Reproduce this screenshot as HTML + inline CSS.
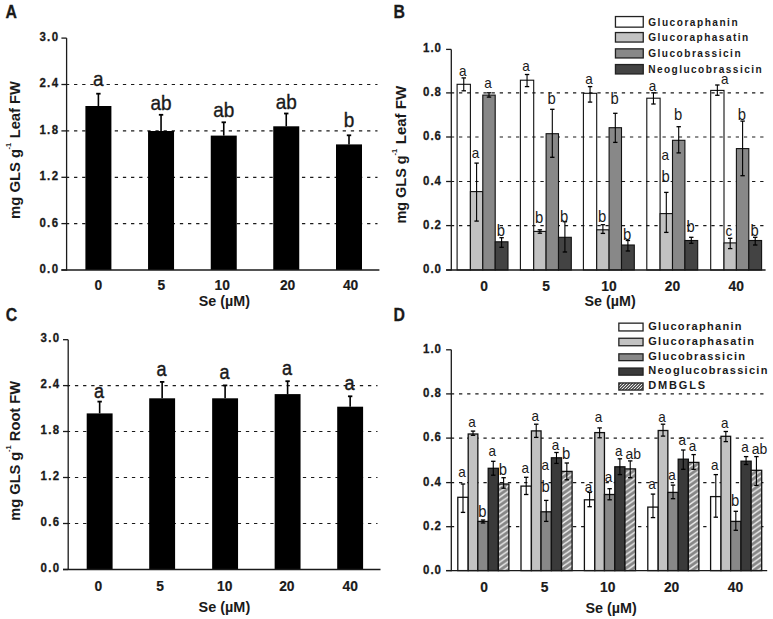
<!DOCTYPE html><html><head><meta charset="utf-8"><title>GLS figure</title><style>html,body{margin:0;padding:0;background:#fff;width:773px;height:619px;overflow:hidden}svg text{font-family:'Liberation Sans', sans-serif}</style></head><body><svg width="773" height="619" viewBox="0 0 773 619" font-family="'Liberation Sans', sans-serif" style="display:block">
<defs><pattern id="hatch" patternUnits="userSpaceOnUse" width="7.7" height="5.4"><rect width="7.7" height="5.4" fill="#868686"/><path d="M-3.85,2.7 L3.85,-2.7 M0,5.4 L7.7,0 M3.85,8.1 L11.55,2.7" stroke="#eeeeee" stroke-width="1.4"/></pattern><pattern id="hatch2" patternUnits="userSpaceOnUse" width="3" height="3"><rect width="3" height="3" fill="#5a5a5a"/><path d="M0,3 l3,-3" stroke="#e8e8e8" stroke-width="1"/></pattern></defs>
<rect width="773" height="619" fill="#fff"/>
<line x1="65.90" y1="84.50" x2="377.50" y2="84.50" stroke="#1a1a1a" stroke-width="1.2" stroke-dasharray="3.3 4.84"/>
<line x1="65.90" y1="130.90" x2="377.50" y2="130.90" stroke="#1a1a1a" stroke-width="1.2" stroke-dasharray="3.3 4.84"/>
<line x1="65.90" y1="177.30" x2="377.50" y2="177.30" stroke="#1a1a1a" stroke-width="1.2" stroke-dasharray="3.3 4.84"/>
<line x1="65.90" y1="223.60" x2="377.50" y2="223.60" stroke="#1a1a1a" stroke-width="1.2" stroke-dasharray="3.3 4.84"/>
<rect x="85.40" y="106.00" width="26.00" height="164.00" fill="#000" stroke="none" stroke-width="1.0"/>
<line x1="98.40" y1="106.00" x2="98.40" y2="93.70" stroke="#000" stroke-width="1.6" />
<line x1="96.20" y1="93.70" x2="100.60" y2="93.70" stroke="#000" stroke-width="1.8" />
<text transform="translate(98.40,85.60) scale(0.95,1)" font-size="20" font-weight="normal" text-anchor="middle" fill="#1a1a1a" stroke="#1a1a1a" stroke-width="0.35">a</text>
<rect x="148.05" y="131.00" width="26.00" height="139.00" fill="#000" stroke="none" stroke-width="1.0"/>
<line x1="161.05" y1="131.00" x2="161.05" y2="114.80" stroke="#000" stroke-width="1.6" />
<line x1="158.85" y1="114.80" x2="163.25" y2="114.80" stroke="#000" stroke-width="1.8" />
<text transform="translate(161.05,109.60) scale(0.95,1)" font-size="20" font-weight="normal" text-anchor="middle" fill="#1a1a1a" stroke="#1a1a1a" stroke-width="0.35">ab</text>
<rect x="210.75" y="135.60" width="26.00" height="134.40" fill="#000" stroke="none" stroke-width="1.0"/>
<line x1="223.75" y1="135.60" x2="223.75" y2="122.30" stroke="#000" stroke-width="1.6" />
<line x1="221.55" y1="122.30" x2="225.95" y2="122.30" stroke="#000" stroke-width="1.8" />
<text transform="translate(223.75,116.60) scale(0.95,1)" font-size="20" font-weight="normal" text-anchor="middle" fill="#1a1a1a" stroke="#1a1a1a" stroke-width="0.35">ab</text>
<rect x="273.25" y="126.30" width="26.00" height="143.70" fill="#000" stroke="none" stroke-width="1.0"/>
<line x1="286.25" y1="126.30" x2="286.25" y2="113.50" stroke="#000" stroke-width="1.6" />
<line x1="284.05" y1="113.50" x2="288.45" y2="113.50" stroke="#000" stroke-width="1.8" />
<text transform="translate(286.25,109.20) scale(0.95,1)" font-size="20" font-weight="normal" text-anchor="middle" fill="#1a1a1a" stroke="#1a1a1a" stroke-width="0.35">ab</text>
<rect x="336.00" y="144.40" width="26.00" height="125.60" fill="#000" stroke="none" stroke-width="1.0"/>
<line x1="349.00" y1="144.40" x2="349.00" y2="135.30" stroke="#000" stroke-width="1.6" />
<line x1="346.80" y1="135.30" x2="351.20" y2="135.30" stroke="#000" stroke-width="1.8" />
<text transform="translate(349.00,127.00) scale(0.95,1)" font-size="20" font-weight="normal" text-anchor="middle" fill="#1a1a1a" stroke="#1a1a1a" stroke-width="0.35">b</text>
<line x1="66.60" y1="38.10" x2="66.60" y2="270.60" stroke="#1a1a1a" stroke-width="1.3" />
<line x1="61.40" y1="270.00" x2="379.40" y2="270.00" stroke="#1a1a1a" stroke-width="1.3" />
<line x1="61.40" y1="38.10" x2="66.60" y2="38.10" stroke="#1a1a1a" stroke-width="1.3" />
<text transform="translate(59.40,41.00) scale(0.85,1)" font-size="13.5" font-weight="bold" text-anchor="end" fill="#1a1a1a" letter-spacing="1.6" stroke="#1a1a1a" stroke-width="0.3">3.0</text>
<line x1="61.40" y1="84.50" x2="66.60" y2="84.50" stroke="#1a1a1a" stroke-width="1.3" />
<text transform="translate(59.40,87.40) scale(0.85,1)" font-size="13.5" font-weight="bold" text-anchor="end" fill="#1a1a1a" letter-spacing="1.6" stroke="#1a1a1a" stroke-width="0.3">2.4</text>
<line x1="61.40" y1="130.90" x2="66.60" y2="130.90" stroke="#1a1a1a" stroke-width="1.3" />
<text transform="translate(59.40,133.80) scale(0.85,1)" font-size="13.5" font-weight="bold" text-anchor="end" fill="#1a1a1a" letter-spacing="1.6" stroke="#1a1a1a" stroke-width="0.3">1.8</text>
<line x1="61.40" y1="177.30" x2="66.60" y2="177.30" stroke="#1a1a1a" stroke-width="1.3" />
<text transform="translate(59.40,180.20) scale(0.85,1)" font-size="13.5" font-weight="bold" text-anchor="end" fill="#1a1a1a" letter-spacing="1.6" stroke="#1a1a1a" stroke-width="0.3">1.2</text>
<line x1="61.40" y1="223.60" x2="66.60" y2="223.60" stroke="#1a1a1a" stroke-width="1.3" />
<text transform="translate(59.40,226.50) scale(0.85,1)" font-size="13.5" font-weight="bold" text-anchor="end" fill="#1a1a1a" letter-spacing="1.6" stroke="#1a1a1a" stroke-width="0.3">0.6</text>
<line x1="61.40" y1="270.00" x2="66.60" y2="270.00" stroke="#1a1a1a" stroke-width="1.3" />
<text transform="translate(59.40,272.90) scale(0.85,1)" font-size="13.5" font-weight="bold" text-anchor="end" fill="#1a1a1a" letter-spacing="1.6" stroke="#1a1a1a" stroke-width="0.3">0.0</text>
<text transform="translate(98.30,290.00) scale(0.92,1)" font-size="15" font-weight="bold" text-anchor="middle" fill="#1a1a1a" stroke="#1a1a1a" stroke-width="0.2">0</text>
<text transform="translate(161.30,290.00) scale(0.92,1)" font-size="15" font-weight="bold" text-anchor="middle" fill="#1a1a1a" stroke="#1a1a1a" stroke-width="0.2">5</text>
<text transform="translate(222.20,290.00) scale(0.92,1)" font-size="15" font-weight="bold" text-anchor="middle" fill="#1a1a1a" stroke="#1a1a1a" stroke-width="0.2">10</text>
<text transform="translate(287.60,290.00) scale(0.92,1)" font-size="15" font-weight="bold" text-anchor="middle" fill="#1a1a1a" stroke="#1a1a1a" stroke-width="0.2">20</text>
<text transform="translate(350.60,290.00) scale(0.92,1)" font-size="15" font-weight="bold" text-anchor="middle" fill="#1a1a1a" stroke="#1a1a1a" stroke-width="0.2">40</text>
<text x="198.80" y="305.80" font-size="15" font-weight="bold" text-anchor="start" fill="#1a1a1a" textLength="51.2" lengthAdjust="spacingAndGlyphs">Se (µM)</text>
<text transform="translate(20.3,219.00) rotate(-90)" font-size="14.5" font-weight="bold" fill="#1a1a1a" textLength="70.2" lengthAdjust="spacingAndGlyphs">mg GLS g</text>
<text transform="translate(10.80,149.60) rotate(-90)" font-size="7.5" font-weight="bold" fill="#1a1a1a">-1</text>
<text transform="translate(20.3,138.30) rotate(-90)" font-size="14.5" font-weight="bold" fill="#1a1a1a" textLength="57.1" lengthAdjust="spacingAndGlyphs">Leaf FW</text>
<text transform="translate(5.60,18.20) scale(0.88,1)" font-size="18" font-weight="bold" text-anchor="start" fill="#1a1a1a" stroke="#1a1a1a" stroke-width="0.3">A</text>
<line x1="66.80" y1="385.60" x2="377.50" y2="385.60" stroke="#1a1a1a" stroke-width="1.2" stroke-dasharray="3.3 4.84"/>
<line x1="66.80" y1="431.50" x2="377.50" y2="431.50" stroke="#1a1a1a" stroke-width="1.2" stroke-dasharray="3.3 4.84"/>
<line x1="66.80" y1="477.50" x2="377.50" y2="477.50" stroke="#1a1a1a" stroke-width="1.2" stroke-dasharray="3.3 4.84"/>
<line x1="66.80" y1="523.50" x2="377.50" y2="523.50" stroke="#1a1a1a" stroke-width="1.2" stroke-dasharray="3.3 4.84"/>
<rect x="86.70" y="413.40" width="25.90" height="156.10" fill="#000" stroke="none" stroke-width="1.0"/>
<line x1="99.65" y1="413.40" x2="99.65" y2="401.60" stroke="#000" stroke-width="1.6" />
<line x1="97.45" y1="401.60" x2="101.85" y2="401.60" stroke="#000" stroke-width="1.8" />
<text transform="translate(98.95,397.90) scale(0.86,1)" font-size="21" font-weight="normal" text-anchor="middle" fill="#1a1a1a" stroke="#1a1a1a" stroke-width="0.45">a</text>
<rect x="149.20" y="398.30" width="25.90" height="171.20" fill="#000" stroke="none" stroke-width="1.0"/>
<line x1="162.15" y1="398.30" x2="162.15" y2="381.90" stroke="#000" stroke-width="1.6" />
<line x1="159.95" y1="381.90" x2="164.35" y2="381.90" stroke="#000" stroke-width="1.8" />
<text transform="translate(161.45,376.20) scale(0.86,1)" font-size="21" font-weight="normal" text-anchor="middle" fill="#1a1a1a" stroke="#1a1a1a" stroke-width="0.45">a</text>
<rect x="212.15" y="398.30" width="25.90" height="171.20" fill="#000" stroke="none" stroke-width="1.0"/>
<line x1="225.10" y1="398.30" x2="225.10" y2="385.40" stroke="#000" stroke-width="1.6" />
<line x1="222.90" y1="385.40" x2="227.30" y2="385.40" stroke="#000" stroke-width="1.8" />
<text transform="translate(224.40,379.30) scale(0.86,1)" font-size="21" font-weight="normal" text-anchor="middle" fill="#1a1a1a" stroke="#1a1a1a" stroke-width="0.45">a</text>
<rect x="274.65" y="394.10" width="25.90" height="175.40" fill="#000" stroke="none" stroke-width="1.0"/>
<line x1="287.60" y1="394.10" x2="287.60" y2="381.20" stroke="#000" stroke-width="1.6" />
<line x1="285.40" y1="381.20" x2="289.80" y2="381.20" stroke="#000" stroke-width="1.8" />
<text transform="translate(286.90,374.80) scale(0.86,1)" font-size="21" font-weight="normal" text-anchor="middle" fill="#1a1a1a" stroke="#1a1a1a" stroke-width="0.45">a</text>
<rect x="337.20" y="406.70" width="25.90" height="162.80" fill="#000" stroke="none" stroke-width="1.0"/>
<line x1="350.15" y1="406.70" x2="350.15" y2="396.30" stroke="#000" stroke-width="1.6" />
<line x1="347.95" y1="396.30" x2="352.35" y2="396.30" stroke="#000" stroke-width="1.8" />
<text transform="translate(349.45,389.60) scale(0.86,1)" font-size="21" font-weight="normal" text-anchor="middle" fill="#1a1a1a" stroke="#1a1a1a" stroke-width="0.45">a</text>
<line x1="68.20" y1="339.70" x2="68.20" y2="570.10" stroke="#1a1a1a" stroke-width="1.3" />
<line x1="63.00" y1="569.50" x2="380.50" y2="569.50" stroke="#1a1a1a" stroke-width="1.3" />
<line x1="63.00" y1="339.70" x2="68.20" y2="339.70" stroke="#1a1a1a" stroke-width="1.3" />
<text transform="translate(60.60,342.40) scale(0.85,1)" font-size="13.5" font-weight="bold" text-anchor="end" fill="#1a1a1a" letter-spacing="1.6" stroke="#1a1a1a" stroke-width="0.3">3.0</text>
<line x1="63.00" y1="385.60" x2="68.20" y2="385.60" stroke="#1a1a1a" stroke-width="1.3" />
<text transform="translate(60.60,388.30) scale(0.85,1)" font-size="13.5" font-weight="bold" text-anchor="end" fill="#1a1a1a" letter-spacing="1.6" stroke="#1a1a1a" stroke-width="0.3">2.4</text>
<line x1="63.00" y1="431.50" x2="68.20" y2="431.50" stroke="#1a1a1a" stroke-width="1.3" />
<text transform="translate(60.60,434.20) scale(0.85,1)" font-size="13.5" font-weight="bold" text-anchor="end" fill="#1a1a1a" letter-spacing="1.6" stroke="#1a1a1a" stroke-width="0.3">1.8</text>
<line x1="63.00" y1="477.50" x2="68.20" y2="477.50" stroke="#1a1a1a" stroke-width="1.3" />
<text transform="translate(60.60,480.20) scale(0.85,1)" font-size="13.5" font-weight="bold" text-anchor="end" fill="#1a1a1a" letter-spacing="1.6" stroke="#1a1a1a" stroke-width="0.3">1.2</text>
<line x1="63.00" y1="523.50" x2="68.20" y2="523.50" stroke="#1a1a1a" stroke-width="1.3" />
<text transform="translate(60.60,526.20) scale(0.85,1)" font-size="13.5" font-weight="bold" text-anchor="end" fill="#1a1a1a" letter-spacing="1.6" stroke="#1a1a1a" stroke-width="0.3">0.6</text>
<line x1="63.00" y1="569.50" x2="68.20" y2="569.50" stroke="#1a1a1a" stroke-width="1.3" />
<text transform="translate(60.60,572.20) scale(0.85,1)" font-size="13.5" font-weight="bold" text-anchor="end" fill="#1a1a1a" letter-spacing="1.6" stroke="#1a1a1a" stroke-width="0.3">0.0</text>
<text transform="translate(98.30,591.30) scale(0.92,1)" font-size="15" font-weight="bold" text-anchor="middle" fill="#1a1a1a" stroke="#1a1a1a" stroke-width="0.2">0</text>
<text transform="translate(160.00,591.30) scale(0.92,1)" font-size="15" font-weight="bold" text-anchor="middle" fill="#1a1a1a" stroke="#1a1a1a" stroke-width="0.2">5</text>
<text transform="translate(224.70,591.30) scale(0.92,1)" font-size="15" font-weight="bold" text-anchor="middle" fill="#1a1a1a" stroke="#1a1a1a" stroke-width="0.2">10</text>
<text transform="translate(286.80,591.30) scale(0.92,1)" font-size="15" font-weight="bold" text-anchor="middle" fill="#1a1a1a" stroke="#1a1a1a" stroke-width="0.2">20</text>
<text transform="translate(350.20,591.30) scale(0.92,1)" font-size="15" font-weight="bold" text-anchor="middle" fill="#1a1a1a" stroke="#1a1a1a" stroke-width="0.2">40</text>
<text x="198.60" y="612.20" font-size="15" font-weight="bold" text-anchor="start" fill="#1a1a1a" textLength="51.6" lengthAdjust="spacingAndGlyphs">Se (µM)</text>
<text transform="translate(20.2,520.70) rotate(-90)" font-size="14.5" font-weight="bold" fill="#1a1a1a" textLength="69.0" lengthAdjust="spacingAndGlyphs">mg GLS g</text>
<text transform="translate(10.70,452.10) rotate(-90)" font-size="7.5" font-weight="bold" fill="#1a1a1a">-1</text>
<text transform="translate(20.2,441.20) rotate(-90)" font-size="14.5" font-weight="bold" fill="#1a1a1a" textLength="60.4" lengthAdjust="spacingAndGlyphs">Root FW</text>
<text transform="translate(5.80,321.00) scale(0.88,1)" font-size="18" font-weight="bold" text-anchor="start" fill="#1a1a1a" stroke="#1a1a1a" stroke-width="0.3">C</text>
<line x1="450.86" y1="92.90" x2="765.00" y2="92.90" stroke="#1a1a1a" stroke-width="1.2" stroke-dasharray="3.3 4.84"/>
<line x1="450.86" y1="137.00" x2="765.00" y2="137.00" stroke="#1a1a1a" stroke-width="1.2" stroke-dasharray="3.3 4.84"/>
<line x1="450.86" y1="181.50" x2="765.00" y2="181.50" stroke="#1a1a1a" stroke-width="1.2" stroke-dasharray="3.3 4.84"/>
<line x1="450.86" y1="225.60" x2="765.00" y2="225.60" stroke="#1a1a1a" stroke-width="1.2" stroke-dasharray="3.3 4.84"/>
<rect x="457.10" y="84.30" width="13.30" height="185.70" fill="none" stroke="#111" stroke-width="1.1"/>
<rect x="470.40" y="191.60" width="12.40" height="78.40" fill="#c2c2c2" stroke="#111" stroke-width="1.1"/>
<rect x="482.80" y="95.10" width="12.40" height="174.90" fill="#888888" stroke="#111" stroke-width="1.1"/>
<rect x="495.20" y="241.80" width="12.80" height="28.20" fill="#434343" stroke="#111" stroke-width="1.1"/>
<line x1="463.75" y1="77.90" x2="463.75" y2="90.80" stroke="#000" stroke-width="1.1" />
<line x1="461.55" y1="77.90" x2="465.95" y2="77.90" stroke="#000" stroke-width="1.3" />
<line x1="461.55" y1="90.80" x2="465.95" y2="90.80" stroke="#000" stroke-width="1.3" />
<line x1="476.60" y1="163.10" x2="476.60" y2="221.10" stroke="#000" stroke-width="1.1" />
<line x1="474.40" y1="163.10" x2="478.80" y2="163.10" stroke="#000" stroke-width="1.3" />
<line x1="474.40" y1="221.10" x2="478.80" y2="221.10" stroke="#000" stroke-width="1.3" />
<line x1="489.00" y1="92.80" x2="489.00" y2="97.10" stroke="#000" stroke-width="1.1" />
<line x1="486.80" y1="92.80" x2="491.20" y2="92.80" stroke="#000" stroke-width="1.3" />
<line x1="486.80" y1="97.10" x2="491.20" y2="97.10" stroke="#000" stroke-width="1.3" />
<line x1="501.60" y1="237.70" x2="501.60" y2="247.30" stroke="#000" stroke-width="1.1" />
<line x1="499.40" y1="237.70" x2="503.80" y2="237.70" stroke="#000" stroke-width="1.3" />
<line x1="499.40" y1="247.30" x2="503.80" y2="247.30" stroke="#000" stroke-width="1.3" />
<rect x="520.40" y="80.20" width="13.30" height="189.80" fill="none" stroke="#111" stroke-width="1.1"/>
<rect x="533.70" y="231.40" width="12.40" height="38.60" fill="#c2c2c2" stroke="#111" stroke-width="1.1"/>
<rect x="546.10" y="133.70" width="12.40" height="136.30" fill="#888888" stroke="#111" stroke-width="1.1"/>
<rect x="558.50" y="237.30" width="12.80" height="32.70" fill="#434343" stroke="#111" stroke-width="1.1"/>
<line x1="527.05" y1="74.50" x2="527.05" y2="86.60" stroke="#000" stroke-width="1.1" />
<line x1="524.85" y1="74.50" x2="529.25" y2="74.50" stroke="#000" stroke-width="1.3" />
<line x1="524.85" y1="86.60" x2="529.25" y2="86.60" stroke="#000" stroke-width="1.3" />
<line x1="539.90" y1="229.80" x2="539.90" y2="233.20" stroke="#000" stroke-width="1.1" />
<line x1="537.70" y1="229.80" x2="542.10" y2="229.80" stroke="#000" stroke-width="1.3" />
<line x1="537.70" y1="233.20" x2="542.10" y2="233.20" stroke="#000" stroke-width="1.3" />
<line x1="552.30" y1="109.30" x2="552.30" y2="157.30" stroke="#000" stroke-width="1.1" />
<line x1="550.10" y1="109.30" x2="554.50" y2="109.30" stroke="#000" stroke-width="1.3" />
<line x1="550.10" y1="157.30" x2="554.50" y2="157.30" stroke="#000" stroke-width="1.3" />
<line x1="564.90" y1="221.70" x2="564.90" y2="252.00" stroke="#000" stroke-width="1.1" />
<line x1="562.70" y1="221.70" x2="567.10" y2="221.70" stroke="#000" stroke-width="1.3" />
<line x1="562.70" y1="252.00" x2="567.10" y2="252.00" stroke="#000" stroke-width="1.3" />
<rect x="583.40" y="93.30" width="13.30" height="176.70" fill="none" stroke="#111" stroke-width="1.1"/>
<rect x="596.70" y="229.80" width="12.40" height="40.20" fill="#c2c2c2" stroke="#111" stroke-width="1.1"/>
<rect x="609.10" y="127.70" width="12.40" height="142.30" fill="#888888" stroke="#111" stroke-width="1.1"/>
<rect x="621.50" y="245.00" width="12.80" height="25.00" fill="#434343" stroke="#111" stroke-width="1.1"/>
<line x1="590.05" y1="86.60" x2="590.05" y2="102.10" stroke="#000" stroke-width="1.1" />
<line x1="587.85" y1="86.60" x2="592.25" y2="86.60" stroke="#000" stroke-width="1.3" />
<line x1="587.85" y1="102.10" x2="592.25" y2="102.10" stroke="#000" stroke-width="1.3" />
<line x1="602.90" y1="224.70" x2="602.90" y2="233.40" stroke="#000" stroke-width="1.1" />
<line x1="600.70" y1="224.70" x2="605.10" y2="224.70" stroke="#000" stroke-width="1.3" />
<line x1="600.70" y1="233.40" x2="605.10" y2="233.40" stroke="#000" stroke-width="1.3" />
<line x1="615.30" y1="113.30" x2="615.30" y2="142.40" stroke="#000" stroke-width="1.1" />
<line x1="613.10" y1="113.30" x2="617.50" y2="113.30" stroke="#000" stroke-width="1.3" />
<line x1="613.10" y1="142.40" x2="617.50" y2="142.40" stroke="#000" stroke-width="1.3" />
<line x1="627.90" y1="240.50" x2="627.90" y2="251.00" stroke="#000" stroke-width="1.1" />
<line x1="625.70" y1="240.50" x2="630.10" y2="240.50" stroke="#000" stroke-width="1.3" />
<line x1="625.70" y1="251.00" x2="630.10" y2="251.00" stroke="#000" stroke-width="1.3" />
<rect x="646.80" y="98.20" width="13.30" height="171.80" fill="none" stroke="#111" stroke-width="1.1"/>
<rect x="660.10" y="213.60" width="12.40" height="56.40" fill="#c2c2c2" stroke="#111" stroke-width="1.1"/>
<rect x="672.50" y="140.30" width="12.40" height="129.70" fill="#888888" stroke="#111" stroke-width="1.1"/>
<rect x="684.90" y="240.50" width="12.80" height="29.50" fill="#434343" stroke="#111" stroke-width="1.1"/>
<line x1="653.45" y1="92.80" x2="653.45" y2="104.00" stroke="#000" stroke-width="1.1" />
<line x1="651.25" y1="92.80" x2="655.65" y2="92.80" stroke="#000" stroke-width="1.3" />
<line x1="651.25" y1="104.00" x2="655.65" y2="104.00" stroke="#000" stroke-width="1.3" />
<line x1="666.30" y1="192.40" x2="666.30" y2="232.40" stroke="#000" stroke-width="1.1" />
<line x1="664.10" y1="192.40" x2="668.50" y2="192.40" stroke="#000" stroke-width="1.3" />
<line x1="664.10" y1="232.40" x2="668.50" y2="232.40" stroke="#000" stroke-width="1.3" />
<line x1="678.70" y1="126.70" x2="678.70" y2="152.90" stroke="#000" stroke-width="1.1" />
<line x1="676.50" y1="126.70" x2="680.90" y2="126.70" stroke="#000" stroke-width="1.3" />
<line x1="676.50" y1="152.90" x2="680.90" y2="152.90" stroke="#000" stroke-width="1.3" />
<line x1="691.30" y1="237.30" x2="691.30" y2="243.30" stroke="#000" stroke-width="1.1" />
<line x1="689.10" y1="237.30" x2="693.50" y2="237.30" stroke="#000" stroke-width="1.3" />
<line x1="689.10" y1="243.30" x2="693.50" y2="243.30" stroke="#000" stroke-width="1.3" />
<rect x="710.70" y="90.40" width="13.30" height="179.60" fill="none" stroke="#111" stroke-width="1.1"/>
<rect x="724.00" y="242.90" width="12.40" height="27.10" fill="#c2c2c2" stroke="#111" stroke-width="1.1"/>
<rect x="736.40" y="148.60" width="12.40" height="121.40" fill="#888888" stroke="#111" stroke-width="1.1"/>
<rect x="748.80" y="240.50" width="12.80" height="29.50" fill="#434343" stroke="#111" stroke-width="1.1"/>
<line x1="717.35" y1="85.00" x2="717.35" y2="95.30" stroke="#000" stroke-width="1.1" />
<line x1="715.15" y1="85.00" x2="719.55" y2="85.00" stroke="#000" stroke-width="1.3" />
<line x1="715.15" y1="95.30" x2="719.55" y2="95.30" stroke="#000" stroke-width="1.3" />
<line x1="730.20" y1="238.30" x2="730.20" y2="248.60" stroke="#000" stroke-width="1.1" />
<line x1="728.00" y1="238.30" x2="732.40" y2="238.30" stroke="#000" stroke-width="1.3" />
<line x1="728.00" y1="248.60" x2="732.40" y2="248.60" stroke="#000" stroke-width="1.3" />
<line x1="742.60" y1="121.10" x2="742.60" y2="175.70" stroke="#000" stroke-width="1.1" />
<line x1="740.40" y1="121.10" x2="744.80" y2="121.10" stroke="#000" stroke-width="1.3" />
<line x1="740.40" y1="175.70" x2="744.80" y2="175.70" stroke="#000" stroke-width="1.3" />
<line x1="755.20" y1="237.30" x2="755.20" y2="245.00" stroke="#000" stroke-width="1.1" />
<line x1="753.00" y1="237.30" x2="757.40" y2="237.30" stroke="#000" stroke-width="1.3" />
<line x1="753.00" y1="245.00" x2="757.40" y2="245.00" stroke="#000" stroke-width="1.3" />
<text transform="translate(458.95,75.60) scale(0.9,1)" font-size="15" font-weight="normal" text-anchor="start" fill="#1a1a1a" >a</text>
<text transform="translate(471.80,157.50) scale(0.9,1)" font-size="15" font-weight="normal" text-anchor="start" fill="#1a1a1a" >a</text>
<text transform="translate(484.20,88.10) scale(0.9,1)" font-size="15" font-weight="normal" text-anchor="start" fill="#1a1a1a" >a</text>
<text transform="translate(496.80,235.70) scale(0.9,1)" font-size="16.5" font-weight="normal" text-anchor="start" fill="#1a1a1a" >b</text>
<text transform="translate(522.25,70.80) scale(0.9,1)" font-size="15" font-weight="normal" text-anchor="start" fill="#1a1a1a" >a</text>
<text transform="translate(535.10,223.30) scale(0.9,1)" font-size="16.5" font-weight="normal" text-anchor="start" fill="#1a1a1a" >b</text>
<text transform="translate(547.50,103.50) scale(0.9,1)" font-size="16.5" font-weight="normal" text-anchor="start" fill="#1a1a1a" >b</text>
<text transform="translate(560.10,222.40) scale(0.9,1)" font-size="16.5" font-weight="normal" text-anchor="start" fill="#1a1a1a" >b</text>
<text transform="translate(585.25,84.00) scale(0.9,1)" font-size="15" font-weight="normal" text-anchor="start" fill="#1a1a1a" >a</text>
<text transform="translate(598.10,222.00) scale(0.9,1)" font-size="16.5" font-weight="normal" text-anchor="start" fill="#1a1a1a" >b</text>
<text transform="translate(610.50,103.80) scale(0.9,1)" font-size="16.5" font-weight="normal" text-anchor="start" fill="#1a1a1a" >b</text>
<text transform="translate(623.10,239.60) scale(0.9,1)" font-size="16.5" font-weight="normal" text-anchor="start" fill="#1a1a1a" >b</text>
<text transform="translate(648.65,91.20) scale(0.9,1)" font-size="15" font-weight="normal" text-anchor="start" fill="#1a1a1a" >a</text>
<text transform="translate(661.50,159.90) scale(0.9,1)" font-size="15" font-weight="normal" text-anchor="start" fill="#1a1a1a" >a</text>
<text transform="translate(661.50,182.00) scale(0.9,1)" font-size="16.5" font-weight="normal" text-anchor="start" fill="#1a1a1a" >b</text>
<text transform="translate(673.90,119.70) scale(0.9,1)" font-size="16.5" font-weight="normal" text-anchor="start" fill="#1a1a1a" >b</text>
<text transform="translate(686.50,231.50) scale(0.9,1)" font-size="16.5" font-weight="normal" text-anchor="start" fill="#1a1a1a" >b</text>
<text transform="translate(720.95,84.00) scale(0.9,1)" font-size="15" font-weight="normal" text-anchor="start" fill="#1a1a1a" >a</text>
<text transform="translate(725.40,235.70) scale(0.9,1)" font-size="15" font-weight="normal" text-anchor="start" fill="#1a1a1a" >c</text>
<text transform="translate(737.80,120.30) scale(0.9,1)" font-size="16.5" font-weight="normal" text-anchor="start" fill="#1a1a1a" >b</text>
<text transform="translate(750.40,235.70) scale(0.9,1)" font-size="16.5" font-weight="normal" text-anchor="start" fill="#1a1a1a" >b</text>
<line x1="451.30" y1="49.40" x2="451.30" y2="270.60" stroke="#1a1a1a" stroke-width="1.3" />
<line x1="446.10" y1="270.00" x2="765.60" y2="270.00" stroke="#1a1a1a" stroke-width="1.3" />
<line x1="446.10" y1="49.40" x2="451.30" y2="49.40" stroke="#1a1a1a" stroke-width="1.3" />
<text transform="translate(442.00,52.40) scale(0.85,1)" font-size="13.5" font-weight="bold" text-anchor="end" fill="#1a1a1a" letter-spacing="1.2" stroke="#1a1a1a" stroke-width="0.3">1.0</text>
<line x1="446.10" y1="92.90" x2="451.30" y2="92.90" stroke="#1a1a1a" stroke-width="1.3" />
<text transform="translate(442.00,95.90) scale(0.85,1)" font-size="13.5" font-weight="bold" text-anchor="end" fill="#1a1a1a" letter-spacing="1.2" stroke="#1a1a1a" stroke-width="0.3">0.8</text>
<line x1="446.10" y1="137.00" x2="451.30" y2="137.00" stroke="#1a1a1a" stroke-width="1.3" />
<text transform="translate(442.00,140.00) scale(0.85,1)" font-size="13.5" font-weight="bold" text-anchor="end" fill="#1a1a1a" letter-spacing="1.2" stroke="#1a1a1a" stroke-width="0.3">0.6</text>
<line x1="446.10" y1="181.50" x2="451.30" y2="181.50" stroke="#1a1a1a" stroke-width="1.3" />
<text transform="translate(442.00,184.50) scale(0.85,1)" font-size="13.5" font-weight="bold" text-anchor="end" fill="#1a1a1a" letter-spacing="1.2" stroke="#1a1a1a" stroke-width="0.3">0.4</text>
<line x1="446.10" y1="225.60" x2="451.30" y2="225.60" stroke="#1a1a1a" stroke-width="1.3" />
<text transform="translate(442.00,228.60) scale(0.85,1)" font-size="13.5" font-weight="bold" text-anchor="end" fill="#1a1a1a" letter-spacing="1.2" stroke="#1a1a1a" stroke-width="0.3">0.2</text>
<line x1="446.10" y1="270.00" x2="451.30" y2="270.00" stroke="#1a1a1a" stroke-width="1.3" />
<text transform="translate(442.00,273.00) scale(0.85,1)" font-size="13.5" font-weight="bold" text-anchor="end" fill="#1a1a1a" letter-spacing="1.2" stroke="#1a1a1a" stroke-width="0.3">0.0</text>
<text transform="translate(484.20,290.70) scale(0.92,1)" font-size="15" font-weight="bold" text-anchor="middle" fill="#1a1a1a" stroke="#1a1a1a" stroke-width="0.2">0</text>
<text transform="translate(546.10,290.70) scale(0.92,1)" font-size="15" font-weight="bold" text-anchor="middle" fill="#1a1a1a" stroke="#1a1a1a" stroke-width="0.2">5</text>
<text transform="translate(609.00,290.70) scale(0.92,1)" font-size="15" font-weight="bold" text-anchor="middle" fill="#1a1a1a" stroke="#1a1a1a" stroke-width="0.2">10</text>
<text transform="translate(672.50,290.70) scale(0.92,1)" font-size="15" font-weight="bold" text-anchor="middle" fill="#1a1a1a" stroke="#1a1a1a" stroke-width="0.2">20</text>
<text transform="translate(736.20,290.70) scale(0.92,1)" font-size="15" font-weight="bold" text-anchor="middle" fill="#1a1a1a" stroke="#1a1a1a" stroke-width="0.2">40</text>
<text x="584.60" y="305.90" font-size="15" font-weight="bold" text-anchor="start" fill="#1a1a1a" textLength="51.1" lengthAdjust="spacingAndGlyphs">Se (µM)</text>
<text transform="translate(406.2,223.60) rotate(-90)" font-size="14.5" font-weight="bold" fill="#1a1a1a" textLength="68.3" lengthAdjust="spacingAndGlyphs">mg GLS g</text>
<text transform="translate(396.70,155.60) rotate(-90)" font-size="7.5" font-weight="bold" fill="#1a1a1a">-1</text>
<text transform="translate(406.2,144.30) rotate(-90)" font-size="14.5" font-weight="bold" fill="#1a1a1a" textLength="58.5" lengthAdjust="spacingAndGlyphs">Leaf FW</text>
<rect x="615.45" y="16.55" width="27.80" height="10.60" fill="white" stroke="#222" stroke-width="1.3"/>
<text transform="translate(648.20,26.20) scale(0.92,1)" font-size="11" font-weight="bold" text-anchor="start" fill="#1a1a1a" textLength="97.2" lengthAdjust="spacing">Glucoraphanin</text>
<rect x="615.45" y="32.55" width="27.80" height="9.50" fill="#c2c2c2" stroke="#222" stroke-width="1.3"/>
<text transform="translate(648.20,41.10) scale(0.92,1)" font-size="11" font-weight="bold" text-anchor="start" fill="#1a1a1a" textLength="108.7" lengthAdjust="spacing">Glucoraphasatin</text>
<rect x="615.45" y="48.85" width="27.80" height="9.10" fill="#888888" stroke="#222" stroke-width="1.3"/>
<text transform="translate(648.20,57.00) scale(0.92,1)" font-size="11" font-weight="bold" text-anchor="start" fill="#1a1a1a" textLength="100.4" lengthAdjust="spacing">Glucobrassicin</text>
<rect x="615.45" y="64.55" width="27.80" height="9.40" fill="#434343" stroke="#222" stroke-width="1.3"/>
<text transform="translate(648.20,73.00) scale(0.92,1)" font-size="11" font-weight="bold" text-anchor="start" fill="#1a1a1a" textLength="123.3" lengthAdjust="spacing">Neoglucobrassicin</text>
<text transform="translate(393.40,18.30) scale(0.88,1)" font-size="18" font-weight="bold" text-anchor="start" fill="#1a1a1a" stroke="#1a1a1a" stroke-width="0.3">B</text>
<line x1="450.86" y1="393.90" x2="766.00" y2="393.90" stroke="#1a1a1a" stroke-width="1.2" stroke-dasharray="3.3 4.84"/>
<line x1="450.86" y1="438.10" x2="766.00" y2="438.10" stroke="#1a1a1a" stroke-width="1.2" stroke-dasharray="3.3 4.84"/>
<line x1="450.86" y1="482.60" x2="766.00" y2="482.60" stroke="#1a1a1a" stroke-width="1.2" stroke-dasharray="3.3 4.84"/>
<line x1="450.86" y1="526.70" x2="766.00" y2="526.70" stroke="#1a1a1a" stroke-width="1.2" stroke-dasharray="3.3 4.84"/>
<rect x="457.80" y="497.30" width="10.40" height="73.30" fill="#fff" stroke="#111" stroke-width="1.3"/>
<rect x="468.20" y="434.00" width="9.65" height="136.60" fill="#c2c2c2" stroke="#111" stroke-width="1.3"/>
<rect x="477.85" y="521.40" width="10.35" height="49.20" fill="#888888" stroke="#111" stroke-width="1.3"/>
<rect x="488.20" y="468.30" width="10.15" height="102.30" fill="#3a3a3a" stroke="#111" stroke-width="1.3"/>
<rect x="498.35" y="484.00" width="10.55" height="86.60" fill="url(#hatch)" stroke="#111" stroke-width="1.3"/>
<line x1="463.00" y1="484.00" x2="463.00" y2="512.40" stroke="#000" stroke-width="1.1" />
<line x1="460.80" y1="484.00" x2="465.20" y2="484.00" stroke="#000" stroke-width="1.3" />
<line x1="460.80" y1="512.40" x2="465.20" y2="512.40" stroke="#000" stroke-width="1.3" />
<line x1="473.02" y1="431.10" x2="473.02" y2="435.30" stroke="#000" stroke-width="1.1" />
<line x1="470.82" y1="431.10" x2="475.22" y2="431.10" stroke="#000" stroke-width="1.3" />
<line x1="470.82" y1="435.30" x2="475.22" y2="435.30" stroke="#000" stroke-width="1.3" />
<line x1="483.03" y1="520.00" x2="483.03" y2="523.00" stroke="#000" stroke-width="1.1" />
<line x1="480.83" y1="520.00" x2="485.23" y2="520.00" stroke="#000" stroke-width="1.3" />
<line x1="480.83" y1="523.00" x2="485.23" y2="523.00" stroke="#000" stroke-width="1.3" />
<line x1="493.27" y1="461.30" x2="493.27" y2="475.20" stroke="#000" stroke-width="1.1" />
<line x1="491.07" y1="461.30" x2="495.47" y2="461.30" stroke="#000" stroke-width="1.3" />
<line x1="491.07" y1="475.20" x2="495.47" y2="475.20" stroke="#000" stroke-width="1.3" />
<line x1="503.62" y1="477.70" x2="503.62" y2="488.20" stroke="#000" stroke-width="1.1" />
<line x1="501.43" y1="477.70" x2="505.82" y2="477.70" stroke="#000" stroke-width="1.3" />
<line x1="501.43" y1="488.20" x2="505.82" y2="488.20" stroke="#000" stroke-width="1.3" />
<rect x="521.00" y="486.10" width="10.40" height="84.50" fill="#fff" stroke="#111" stroke-width="1.3"/>
<rect x="531.40" y="430.90" width="9.65" height="139.70" fill="#c2c2c2" stroke="#111" stroke-width="1.3"/>
<rect x="541.05" y="511.80" width="10.35" height="58.80" fill="#888888" stroke="#111" stroke-width="1.3"/>
<rect x="551.40" y="457.80" width="10.15" height="112.80" fill="#3a3a3a" stroke="#111" stroke-width="1.3"/>
<rect x="561.55" y="471.40" width="10.55" height="99.20" fill="url(#hatch)" stroke="#111" stroke-width="1.3"/>
<line x1="526.20" y1="477.30" x2="526.20" y2="494.50" stroke="#000" stroke-width="1.1" />
<line x1="524.00" y1="477.30" x2="528.40" y2="477.30" stroke="#000" stroke-width="1.3" />
<line x1="524.00" y1="494.50" x2="528.40" y2="494.50" stroke="#000" stroke-width="1.3" />
<line x1="536.23" y1="424.20" x2="536.23" y2="437.40" stroke="#000" stroke-width="1.1" />
<line x1="534.02" y1="424.20" x2="538.43" y2="424.20" stroke="#000" stroke-width="1.3" />
<line x1="534.02" y1="437.40" x2="538.43" y2="437.40" stroke="#000" stroke-width="1.3" />
<line x1="546.22" y1="500.40" x2="546.22" y2="521.40" stroke="#000" stroke-width="1.1" />
<line x1="544.02" y1="500.40" x2="548.42" y2="500.40" stroke="#000" stroke-width="1.3" />
<line x1="544.02" y1="521.40" x2="548.42" y2="521.40" stroke="#000" stroke-width="1.3" />
<line x1="556.48" y1="452.50" x2="556.48" y2="463.40" stroke="#000" stroke-width="1.1" />
<line x1="554.27" y1="452.50" x2="558.68" y2="452.50" stroke="#000" stroke-width="1.3" />
<line x1="554.27" y1="463.40" x2="558.68" y2="463.40" stroke="#000" stroke-width="1.3" />
<line x1="566.82" y1="463.00" x2="566.82" y2="479.80" stroke="#000" stroke-width="1.1" />
<line x1="564.62" y1="463.00" x2="569.02" y2="463.00" stroke="#000" stroke-width="1.3" />
<line x1="564.62" y1="479.80" x2="569.02" y2="479.80" stroke="#000" stroke-width="1.3" />
<rect x="584.40" y="499.80" width="10.40" height="70.80" fill="#fff" stroke="#111" stroke-width="1.3"/>
<rect x="594.80" y="432.60" width="9.65" height="138.00" fill="#c2c2c2" stroke="#111" stroke-width="1.3"/>
<rect x="604.45" y="494.50" width="10.35" height="76.10" fill="#888888" stroke="#111" stroke-width="1.3"/>
<rect x="614.80" y="466.80" width="10.15" height="103.80" fill="#3a3a3a" stroke="#111" stroke-width="1.3"/>
<rect x="624.95" y="468.90" width="10.55" height="101.70" fill="url(#hatch)" stroke="#111" stroke-width="1.3"/>
<line x1="589.60" y1="492.40" x2="589.60" y2="506.70" stroke="#000" stroke-width="1.1" />
<line x1="587.40" y1="492.40" x2="591.80" y2="492.40" stroke="#000" stroke-width="1.3" />
<line x1="587.40" y1="506.70" x2="591.80" y2="506.70" stroke="#000" stroke-width="1.3" />
<line x1="599.62" y1="427.90" x2="599.62" y2="437.80" stroke="#000" stroke-width="1.1" />
<line x1="597.42" y1="427.90" x2="601.83" y2="427.90" stroke="#000" stroke-width="1.3" />
<line x1="597.42" y1="437.80" x2="601.83" y2="437.80" stroke="#000" stroke-width="1.3" />
<line x1="609.62" y1="488.70" x2="609.62" y2="499.80" stroke="#000" stroke-width="1.1" />
<line x1="607.42" y1="488.70" x2="611.82" y2="488.70" stroke="#000" stroke-width="1.3" />
<line x1="607.42" y1="499.80" x2="611.82" y2="499.80" stroke="#000" stroke-width="1.3" />
<line x1="619.88" y1="458.80" x2="619.88" y2="474.60" stroke="#000" stroke-width="1.1" />
<line x1="617.67" y1="458.80" x2="622.08" y2="458.80" stroke="#000" stroke-width="1.3" />
<line x1="617.67" y1="474.60" x2="622.08" y2="474.60" stroke="#000" stroke-width="1.3" />
<line x1="630.22" y1="460.90" x2="630.22" y2="477.70" stroke="#000" stroke-width="1.1" />
<line x1="628.02" y1="460.90" x2="632.42" y2="460.90" stroke="#000" stroke-width="1.3" />
<line x1="628.02" y1="477.70" x2="632.42" y2="477.70" stroke="#000" stroke-width="1.3" />
<rect x="647.80" y="507.10" width="10.40" height="63.50" fill="#fff" stroke="#111" stroke-width="1.3"/>
<rect x="658.20" y="430.50" width="9.65" height="140.10" fill="#c2c2c2" stroke="#111" stroke-width="1.3"/>
<rect x="667.85" y="492.40" width="10.35" height="78.20" fill="#888888" stroke="#111" stroke-width="1.3"/>
<rect x="678.20" y="459.20" width="10.15" height="111.40" fill="#3a3a3a" stroke="#111" stroke-width="1.3"/>
<rect x="688.35" y="462.40" width="10.55" height="108.20" fill="url(#hatch)" stroke="#111" stroke-width="1.3"/>
<line x1="653.00" y1="494.10" x2="653.00" y2="517.60" stroke="#000" stroke-width="1.1" />
<line x1="650.80" y1="494.10" x2="655.20" y2="494.10" stroke="#000" stroke-width="1.3" />
<line x1="650.80" y1="517.60" x2="655.20" y2="517.60" stroke="#000" stroke-width="1.3" />
<line x1="663.02" y1="424.20" x2="663.02" y2="436.10" stroke="#000" stroke-width="1.1" />
<line x1="660.82" y1="424.20" x2="665.23" y2="424.20" stroke="#000" stroke-width="1.3" />
<line x1="660.82" y1="436.10" x2="665.23" y2="436.10" stroke="#000" stroke-width="1.3" />
<line x1="673.02" y1="485.10" x2="673.02" y2="498.70" stroke="#000" stroke-width="1.1" />
<line x1="670.82" y1="485.10" x2="675.22" y2="485.10" stroke="#000" stroke-width="1.3" />
<line x1="670.82" y1="498.70" x2="675.22" y2="498.70" stroke="#000" stroke-width="1.3" />
<line x1="683.27" y1="450.00" x2="683.27" y2="469.30" stroke="#000" stroke-width="1.1" />
<line x1="681.07" y1="450.00" x2="685.48" y2="450.00" stroke="#000" stroke-width="1.3" />
<line x1="681.07" y1="469.30" x2="685.48" y2="469.30" stroke="#000" stroke-width="1.3" />
<line x1="693.62" y1="454.60" x2="693.62" y2="469.30" stroke="#000" stroke-width="1.1" />
<line x1="691.42" y1="454.60" x2="695.82" y2="454.60" stroke="#000" stroke-width="1.3" />
<line x1="691.42" y1="469.30" x2="695.82" y2="469.30" stroke="#000" stroke-width="1.3" />
<rect x="710.60" y="496.60" width="10.40" height="74.00" fill="#fff" stroke="#111" stroke-width="1.3"/>
<rect x="721.00" y="436.30" width="9.65" height="134.30" fill="#c2c2c2" stroke="#111" stroke-width="1.3"/>
<rect x="730.65" y="521.40" width="10.35" height="49.20" fill="#888888" stroke="#111" stroke-width="1.3"/>
<rect x="741.00" y="461.20" width="10.15" height="109.40" fill="#3a3a3a" stroke="#111" stroke-width="1.3"/>
<rect x="751.15" y="470.30" width="10.55" height="100.30" fill="url(#hatch)" stroke="#111" stroke-width="1.3"/>
<line x1="715.80" y1="474.60" x2="715.80" y2="517.20" stroke="#000" stroke-width="1.1" />
<line x1="713.60" y1="474.60" x2="718.00" y2="474.60" stroke="#000" stroke-width="1.3" />
<line x1="713.60" y1="517.20" x2="718.00" y2="517.20" stroke="#000" stroke-width="1.3" />
<line x1="725.83" y1="431.50" x2="725.83" y2="441.60" stroke="#000" stroke-width="1.1" />
<line x1="723.62" y1="431.50" x2="728.03" y2="431.50" stroke="#000" stroke-width="1.3" />
<line x1="723.62" y1="441.60" x2="728.03" y2="441.60" stroke="#000" stroke-width="1.3" />
<line x1="735.82" y1="511.30" x2="735.82" y2="530.30" stroke="#000" stroke-width="1.1" />
<line x1="733.62" y1="511.30" x2="738.02" y2="511.30" stroke="#000" stroke-width="1.3" />
<line x1="733.62" y1="530.30" x2="738.02" y2="530.30" stroke="#000" stroke-width="1.3" />
<line x1="746.08" y1="456.60" x2="746.08" y2="464.50" stroke="#000" stroke-width="1.1" />
<line x1="743.88" y1="456.60" x2="748.28" y2="456.60" stroke="#000" stroke-width="1.3" />
<line x1="743.88" y1="464.50" x2="748.28" y2="464.50" stroke="#000" stroke-width="1.3" />
<line x1="756.42" y1="456.60" x2="756.42" y2="485.40" stroke="#000" stroke-width="1.1" />
<line x1="754.22" y1="456.60" x2="758.62" y2="456.60" stroke="#000" stroke-width="1.3" />
<line x1="754.22" y1="485.40" x2="758.62" y2="485.40" stroke="#000" stroke-width="1.3" />
<text transform="translate(458.20,477.40) scale(0.9,1)" font-size="15" font-weight="normal" text-anchor="start" fill="#1a1a1a" >a</text>
<text transform="translate(468.23,426.60) scale(0.9,1)" font-size="15" font-weight="normal" text-anchor="start" fill="#1a1a1a" >a</text>
<text transform="translate(478.23,516.90) scale(0.9,1)" font-size="16.5" font-weight="normal" text-anchor="start" fill="#1a1a1a" >b</text>
<text transform="translate(488.47,456.00) scale(0.9,1)" font-size="15" font-weight="normal" text-anchor="start" fill="#1a1a1a" >a</text>
<text transform="translate(498.82,475.30) scale(0.9,1)" font-size="16.5" font-weight="normal" text-anchor="start" fill="#1a1a1a" >b</text>
<text transform="translate(521.40,472.80) scale(0.9,1)" font-size="15" font-weight="normal" text-anchor="start" fill="#1a1a1a" >a</text>
<text transform="translate(531.43,420.70) scale(0.9,1)" font-size="15" font-weight="normal" text-anchor="start" fill="#1a1a1a" >a</text>
<text transform="translate(541.43,469.70) scale(0.9,1)" font-size="15" font-weight="normal" text-anchor="start" fill="#1a1a1a" >a</text>
<text transform="translate(541.43,492.10) scale(0.9,1)" font-size="16.5" font-weight="normal" text-anchor="start" fill="#1a1a1a" >b</text>
<text transform="translate(551.68,450.10) scale(0.9,1)" font-size="15" font-weight="normal" text-anchor="start" fill="#1a1a1a" >a</text>
<text transform="translate(562.03,458.50) scale(0.9,1)" font-size="16.5" font-weight="normal" text-anchor="start" fill="#1a1a1a" >b</text>
<text transform="translate(584.80,491.70) scale(0.9,1)" font-size="15" font-weight="normal" text-anchor="start" fill="#1a1a1a" >a</text>
<text transform="translate(594.83,422.40) scale(0.9,1)" font-size="15" font-weight="normal" text-anchor="start" fill="#1a1a1a" >a</text>
<text transform="translate(604.83,481.60) scale(0.9,1)" font-size="15" font-weight="normal" text-anchor="start" fill="#1a1a1a" >a</text>
<text transform="translate(615.08,456.00) scale(0.9,1)" font-size="15" font-weight="normal" text-anchor="start" fill="#1a1a1a" >a</text>
<text transform="translate(625.43,458.50) scale(0.9,1)" font-size="15.5" font-weight="normal" text-anchor="start" fill="#1a1a1a" >ab</text>
<text transform="translate(648.20,489.00) scale(0.9,1)" font-size="15" font-weight="normal" text-anchor="start" fill="#1a1a1a" >a</text>
<text transform="translate(658.23,422.40) scale(0.9,1)" font-size="15" font-weight="normal" text-anchor="start" fill="#1a1a1a" >a</text>
<text transform="translate(668.23,480.00) scale(0.9,1)" font-size="15" font-weight="normal" text-anchor="start" fill="#1a1a1a" >a</text>
<text transform="translate(678.48,444.90) scale(0.9,1)" font-size="15" font-weight="normal" text-anchor="start" fill="#1a1a1a" >a</text>
<text transform="translate(688.83,450.80) scale(0.9,1)" font-size="15" font-weight="normal" text-anchor="start" fill="#1a1a1a" >a</text>
<text transform="translate(711.00,470.10) scale(0.9,1)" font-size="15" font-weight="normal" text-anchor="start" fill="#1a1a1a" >a</text>
<text transform="translate(721.03,427.60) scale(0.9,1)" font-size="15" font-weight="normal" text-anchor="start" fill="#1a1a1a" >a</text>
<text transform="translate(731.03,505.80) scale(0.9,1)" font-size="16.5" font-weight="normal" text-anchor="start" fill="#1a1a1a" >b</text>
<text transform="translate(741.28,451.80) scale(0.9,1)" font-size="15" font-weight="normal" text-anchor="start" fill="#1a1a1a" >a</text>
<text transform="translate(751.63,454.00) scale(0.9,1)" font-size="15.5" font-weight="normal" text-anchor="start" fill="#1a1a1a" >ab</text>
<line x1="451.30" y1="349.80" x2="451.30" y2="571.20" stroke="#1a1a1a" stroke-width="1.3" />
<line x1="446.10" y1="570.60" x2="767.20" y2="570.60" stroke="#1a1a1a" stroke-width="1.3" />
<line x1="446.10" y1="349.80" x2="451.30" y2="349.80" stroke="#1a1a1a" stroke-width="1.3" />
<text transform="translate(442.00,352.80) scale(0.85,1)" font-size="13.5" font-weight="bold" text-anchor="end" fill="#1a1a1a" letter-spacing="1.2" stroke="#1a1a1a" stroke-width="0.3">1.0</text>
<line x1="446.10" y1="393.90" x2="451.30" y2="393.90" stroke="#1a1a1a" stroke-width="1.3" />
<text transform="translate(442.00,396.90) scale(0.85,1)" font-size="13.5" font-weight="bold" text-anchor="end" fill="#1a1a1a" letter-spacing="1.2" stroke="#1a1a1a" stroke-width="0.3">0.8</text>
<line x1="446.10" y1="438.10" x2="451.30" y2="438.10" stroke="#1a1a1a" stroke-width="1.3" />
<text transform="translate(442.00,441.10) scale(0.85,1)" font-size="13.5" font-weight="bold" text-anchor="end" fill="#1a1a1a" letter-spacing="1.2" stroke="#1a1a1a" stroke-width="0.3">0.6</text>
<line x1="446.10" y1="482.60" x2="451.30" y2="482.60" stroke="#1a1a1a" stroke-width="1.3" />
<text transform="translate(442.00,485.60) scale(0.85,1)" font-size="13.5" font-weight="bold" text-anchor="end" fill="#1a1a1a" letter-spacing="1.2" stroke="#1a1a1a" stroke-width="0.3">0.4</text>
<line x1="446.10" y1="526.70" x2="451.30" y2="526.70" stroke="#1a1a1a" stroke-width="1.3" />
<text transform="translate(442.00,529.70) scale(0.85,1)" font-size="13.5" font-weight="bold" text-anchor="end" fill="#1a1a1a" letter-spacing="1.2" stroke="#1a1a1a" stroke-width="0.3">0.2</text>
<line x1="446.10" y1="570.60" x2="451.30" y2="570.60" stroke="#1a1a1a" stroke-width="1.3" />
<text transform="translate(442.00,573.60) scale(0.85,1)" font-size="13.5" font-weight="bold" text-anchor="end" fill="#1a1a1a" letter-spacing="1.2" stroke="#1a1a1a" stroke-width="0.3">0.0</text>
<text transform="translate(484.20,592.40) scale(0.92,1)" font-size="15" font-weight="bold" text-anchor="middle" fill="#1a1a1a" stroke="#1a1a1a" stroke-width="0.2">0</text>
<text transform="translate(544.50,592.40) scale(0.92,1)" font-size="15" font-weight="bold" text-anchor="middle" fill="#1a1a1a" stroke="#1a1a1a" stroke-width="0.2">5</text>
<text transform="translate(607.70,592.40) scale(0.92,1)" font-size="15" font-weight="bold" text-anchor="middle" fill="#1a1a1a" stroke="#1a1a1a" stroke-width="0.2">10</text>
<text transform="translate(671.60,592.40) scale(0.92,1)" font-size="15" font-weight="bold" text-anchor="middle" fill="#1a1a1a" stroke="#1a1a1a" stroke-width="0.2">20</text>
<text transform="translate(735.40,592.40) scale(0.92,1)" font-size="15" font-weight="bold" text-anchor="middle" fill="#1a1a1a" stroke="#1a1a1a" stroke-width="0.2">40</text>
<text x="585.50" y="612.60" font-size="15" font-weight="bold" text-anchor="start" fill="#1a1a1a" textLength="51.3" lengthAdjust="spacingAndGlyphs">Se (µM)</text>
<rect x="618.85" y="323.15" width="24.20" height="7.80" fill="white" stroke="#222" stroke-width="1.3"/>
<text x="648.20" y="330.00" font-size="11" font-weight="bold" text-anchor="start" fill="#1a1a1a" textLength="93.3" lengthAdjust="spacing">Glucoraphanin</text>
<rect x="618.85" y="338.25" width="24.20" height="7.50" fill="#c2c2c2" stroke="#222" stroke-width="1.3"/>
<text x="648.20" y="344.80" font-size="11" font-weight="bold" text-anchor="start" fill="#1a1a1a" textLength="105.8" lengthAdjust="spacing">Glucoraphasatin</text>
<rect x="618.85" y="353.85" width="24.20" height="6.80" fill="#888888" stroke="#222" stroke-width="1.3"/>
<text x="648.20" y="359.70" font-size="11" font-weight="bold" text-anchor="start" fill="#1a1a1a" textLength="96.8" lengthAdjust="spacing">Glucobrassicin</text>
<rect x="618.85" y="368.05" width="24.20" height="7.10" fill="#3a3a3a" stroke="#222" stroke-width="1.3"/>
<text x="648.20" y="374.20" font-size="11" font-weight="bold" text-anchor="start" fill="#1a1a1a" textLength="119.2" lengthAdjust="spacing">Neoglucobrassicin</text>
<rect x="618.85" y="382.95" width="24.20" height="7.10" fill="url(#hatch2)" stroke="#222" stroke-width="1.3"/>
<text x="648.20" y="389.10" font-size="11" font-weight="bold" text-anchor="start" fill="#1a1a1a" textLength="57.0" lengthAdjust="spacing">DMBGLS</text>
<text transform="translate(393.40,320.60) scale(0.88,1)" font-size="18" font-weight="bold" text-anchor="start" fill="#1a1a1a" stroke="#1a1a1a" stroke-width="0.3">D</text>
</svg></body></html>
